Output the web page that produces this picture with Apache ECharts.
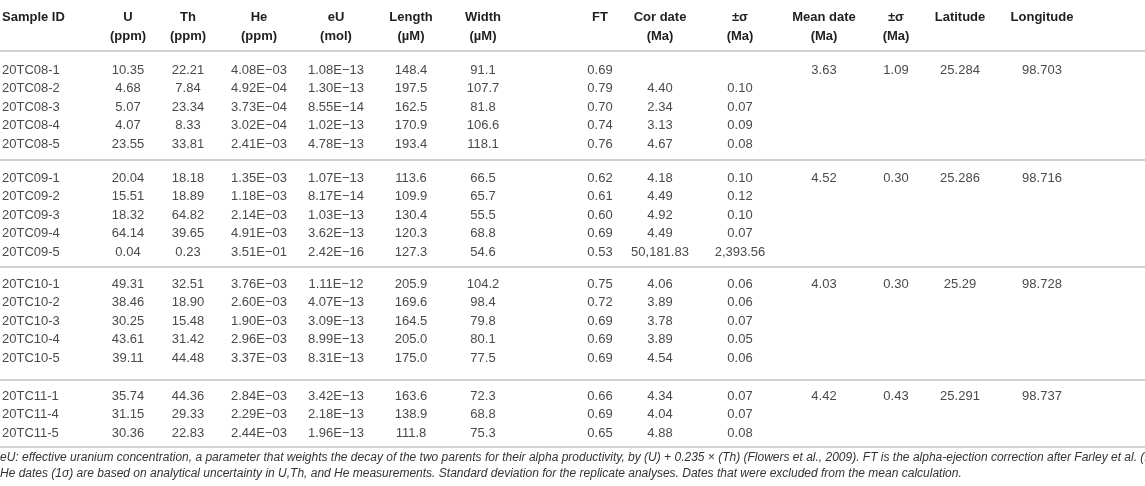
<!DOCTYPE html>
<html>
<head>
<meta charset="utf-8">
<title>(U-Th)/He data</title>
<script src="https://cdn.jsdelivr.net/npm/echarts@6/dist/echarts.min.js"></script>
<style>
  html, body { margin: 0; padding: 0; background: #fff; }
  #main { width: 1145px; height: 486px; }
</style>
</head>
<body>
<div id="main"></div>
<script>
// table data, one array per column
var sampleIds = ['20TC08-1','20TC08-2','20TC08-3','20TC08-4','20TC08-5',
  '20TC09-1','20TC09-2','20TC09-3','20TC09-4','20TC09-5',
  '20TC10-1','20TC10-2','20TC10-3','20TC10-4','20TC10-5',
  '20TC11-1','20TC11-4','20TC11-5'];
var groupSizes = [5, 5, 5, 3];
var uPpm = [10.35, 4.68, 5.07, 4.07, 23.55, 20.04, 15.51, 18.32, 64.14, 0.04,
  49.31, 38.46, 30.25, 43.61, 39.11, 35.74, 31.15, 30.36];
var thPpm = [22.21, 7.84, 23.34, 8.33, 33.81, 18.18, 18.89, 64.82, 39.65, 0.23,
  32.51, 18.90, 15.48, 31.42, 44.48, 44.36, 29.33, 22.83];
var hePpm = [4.08e-3, 4.92e-4, 3.73e-4, 3.02e-4, 2.41e-3, 1.35e-3, 1.18e-3, 2.14e-3, 4.91e-3, 3.51e-1,
  3.76e-3, 2.60e-3, 1.90e-3, 2.96e-3, 3.37e-3, 2.84e-3, 2.29e-3, 2.44e-3];
var euMol = [1.08e-13, 1.30e-13, 8.55e-14, 1.02e-13, 4.78e-13, 1.07e-13, 8.17e-14, 1.03e-13, 3.62e-13, 2.42e-16,
  1.11e-12, 4.07e-13, 3.09e-13, 8.99e-13, 8.31e-13, 3.42e-13, 2.18e-13, 1.96e-13];
var lengthUm = [148.4, 197.5, 162.5, 170.9, 193.4, 113.6, 109.9, 130.4, 120.3, 127.3,
  205.9, 169.6, 164.5, 205.0, 175.0, 163.6, 138.9, 111.8];
var widthUm = [91.1, 107.7, 81.8, 106.6, 118.1, 66.5, 65.7, 55.5, 68.8, 54.6,
  104.2, 98.4, 79.8, 80.1, 77.5, 72.3, 68.8, 75.3];
var ft = [0.69, 0.79, 0.70, 0.74, 0.76, 0.62, 0.61, 0.60, 0.69, 0.53,
  0.75, 0.72, 0.69, 0.69, 0.69, 0.66, 0.69, 0.65];
var corDate = [null, 4.40, 2.34, 3.13, 4.67, 4.18, 4.49, 4.92, 4.49, 50181.83,
  4.06, 3.89, 3.78, 3.89, 4.54, 4.34, 4.04, 4.88];
var corSigma = [null, 0.10, 0.07, 0.09, 0.08, 0.10, 0.12, 0.10, 0.07, 2393.56,
  0.06, 0.06, 0.07, 0.05, 0.06, 0.07, 0.07, 0.08];
// per group values (first row of each group)
var meanDate = [3.63, 4.52, 4.03, 4.42];
var meanSigma = [1.09, 0.30, 0.30, 0.43];
var latitude = ['25.284', '25.286', '25.29', '25.291'];
var longitude = ['98.703', '98.716', '98.728', '98.737'];

var headers = [
  ['Sample ID', ''], ['U', '(ppm)'], ['Th', '(ppm)'], ['He', '(ppm)'], ['eU', '(mol)'],
  ['Length', '(µM)'], ['Width', '(µM)'], ['FT', ''], ['Cor date', '(Ma)'], ['±σ', '(Ma)'],
  ['Mean date', '(Ma)'], ['±σ', '(Ma)'], ['Latitude', ''], ['Longitude', '']
];
var footnotes = [
  'eU: effective uranium concentration, a parameter that weights the decay of the two parents for their alpha productivity, by (U) + 0.235 × (Th) (Flowers et al., 2009). FT is the alpha-ejection correction after Farley et al. (1996),',
  'He dates (1σ) are based on analytical uncertainty in U,Th, and He measurements. Standard deviation for the replicate analyses. Dates that were excluded from the mean calculation.'
];

// layout (pixel space of the hidden axes)
var colX = [2, 128, 188, 259, 336, 411, 483, 600, 660, 740, 824, 896, 960, 1042];
var groupTop = [70, 178, 284, 396];
var rowStep = 18.5;
var ruleY = [51, 160, 267, 380, 447];

function fmt2(v) { return v == null ? '' : v.toLocaleString('en-US', {minimumFractionDigits: 2, maximumFractionDigits: 2}); }
function fmt1(v) { return v.toFixed(1); }
function fmtE(v) {
  var p = v.toExponential(2).split('e');
  var ex = parseInt(p[1], 10);
  return p[0] + 'E' + (ex < 0 ? '\u2212' : '+') + (Math.abs(ex) < 10 ? '0' : '') + Math.abs(ex);
}

var cells = [];
var r = 0;
groupSizes.forEach(function (n, g) {
  for (var k = 0; k < n; k++, r++) {
    var y = groupTop[g] + k * rowStep;
    var row = [sampleIds[r], fmt2(uPpm[r]), fmt2(thPpm[r]), fmtE(hePpm[r]), fmtE(euMol[r]),
      fmt1(lengthUm[r]), fmt1(widthUm[r]), fmt2(ft[r]), fmt2(corDate[r]), fmt2(corSigma[r])];
    if (k === 0) {
      row.push(fmt2(meanDate[g]), fmt2(meanSigma[g]), latitude[g], longitude[g]);
    }
    row.forEach(function (t, c) {
      if (t !== '') cells.push([colX[c], y, t, c === 0 ? 'left' : 'center', 0]);
    });
  }
});
headers.forEach(function (h, c) {
  cells.push([colX[c], 17, h[0], c === 0 ? 'left' : 'center', 1]);
  if (h[1]) cells.push([colX[c], 36, h[1], c === 0 ? 'left' : 'center', 1]);
});

var chart = echarts.init(document.getElementById('main'), null, {renderer: 'canvas'});
chart.setOption({
  animation: false,
  grid: {left: 0, right: 0, top: 0, bottom: 0},
  xAxis: {type: 'value', min: 0, max: 1145, show: false},
  yAxis: {type: 'value', min: 0, max: 486, inverse: true, show: false},
  series: [{
    type: 'custom',
    silent: true,
    data: ruleY.map(function (v) { return [0, v]; }),
    renderItem: function (params, api) {
      var a = api.coord([0, api.value(1)]);
      var b = api.coord([1145, api.value(1)]);
      return {type: 'line', shape: {x1: a[0], y1: a[1], x2: b[0], y2: b[1]},
        style: {stroke: '#d2d2d2', lineWidth: 2}};
    }
  }, {
    type: 'custom',
    silent: true,
    data: cells,
    renderItem: function (params, api) {
      var d = cells[params.dataIndex];
      var p = api.coord([d[0], d[1]]);
      return {
        type: 'text', x: p[0], y: p[1],
        style: {
          text: d[2], align: d[3], verticalAlign: 'middle',
          fill: d[4] ? '#1f1f1f' : '#4a4a4a',
          font: (d[4] ? 'bold ' : '') + '13px "Liberation Sans", Arial, sans-serif'
        }
      };
    }
  }],
  graphic: footnotes.map(function (t, i) {
    return {type: 'text', left: 0, top: 452 + i * 16, silent: true,
      style: {text: t, fill: '#333', font: 'italic 12px "Liberation Sans", Arial, sans-serif'}};
  })
});
</script>
</body>
</html>
